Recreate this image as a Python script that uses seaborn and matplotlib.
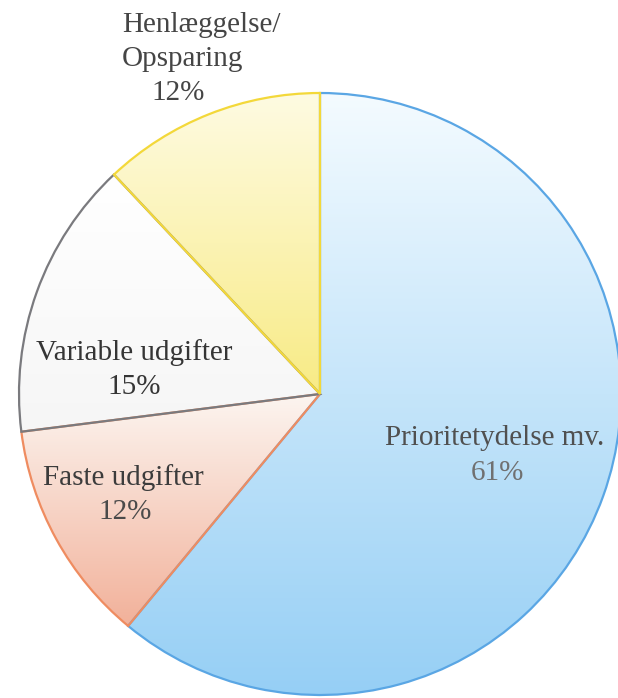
import numpy as np
import matplotlib
matplotlib.use("Agg")
import matplotlib.pyplot as plt
import seaborn as sns
from matplotlib.colors import LinearSegmentedColormap

## data ##

labels = ["Prioritetydelse mv.", "Faste udgifter", "Variable udgifter", "Henlæggelse/\nOpsparing"]
shares = [61, 12, 15, 12]

# gradient top -> bottom for each slice, and its outline colour
top_colors = ["#f4fbff", "#fcf5f0", "#ffffff", "#fefbe2"]
bottom_colors = ["#96cff5", "#f2b19a", "#f6f6f6", "#f8eb85"]
edge_colors = ["#5aa6e4", "#ef8c60", "#7a7a7e", "#f3d83a"]

sns.set_theme(style="white")
plt.rcParams["font.family"] = ["Liberation Serif", "DejaVu Serif"]

fig = plt.figure(figsize=(6.18, 6.98), dpi=100)
ax = fig.add_axes([0, 0, 1, 1])

R = 301.0
cx, cy = 320.0, -394.0   # pixel space, y flipped

wedges, _ = ax.pie(shares, center=(cx, cy), radius=R, startangle=90,
                   counterclock=False, frame=True,
                   wedgeprops=dict(linewidth=1.6))

for w, c0, c1, ec in zip(wedges, top_colors, bottom_colors, edge_colors):
    w.set_facecolor("none")
    w.set_edgecolor(ec)
    w.set_zorder(3)
    ext = w.get_path().get_extents(w.get_patch_transform())
    cmap = LinearSegmentedColormap.from_list("g", [c0, c1])
    grad = np.linspace(0, 1, 256).reshape(-1, 1)
    im = ax.imshow(grad, cmap=cmap, aspect="auto", origin="upper",
                   extent=[ext.x0, ext.x1, ext.y0, ext.y1], zorder=2,
                   interpolation="bilinear")
    im.set_clip_path(w)

ax.set_xlim(0, 618)
ax.set_ylim(-698, 0)
ax.set_aspect("equal")
ax.axis("off")

txt = dict(fontsize=21, ha="center", va="center", zorder=5)

# labels (value lines come from the shares list)
ax.text(495, -438, labels[0], color="#505050", **txt)
ax.text(497, -473, f"{shares[0]}%", color="#707070", **txt)

ax.text(123, -478, labels[1], color="#3c3c3c", **txt)
ax.text(125, -512, f"{shares[1]}%", color="#4a4a4a", **txt)

ax.text(134, -353, labels[2], color="#353535", **txt)
ax.text(134, -387, f"{shares[2]}%", color="#353535", **txt)

top_lines = labels[3].split("\n")
ax.text(122, -25, top_lines[0], color="#454545", fontsize=21, ha="left",
        va="center", zorder=5)
ax.text(122, -59, top_lines[1], color="#454545", fontsize=21, ha="left",
        va="center", zorder=5)
ax.text(178, -93, f"{shares[3]}%", color="#454545", **txt)

fig.savefig("out.png", dpi=100, facecolor="white")
